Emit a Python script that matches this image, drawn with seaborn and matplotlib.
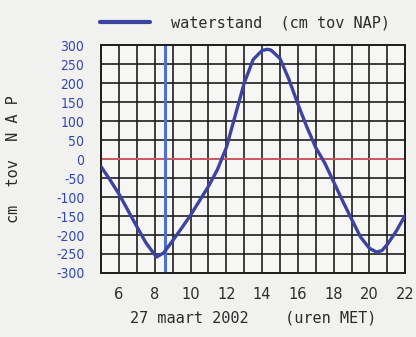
import numpy as np
import pandas as pd
import matplotlib
matplotlib.use('Agg')
import matplotlib.pyplot as plt
import seaborn as sns

# waterstand 27 maart 2002 (uren MET, cm tov NAP)
hours = [5.0, 5.5, 6.0, 6.5, 7.0, 7.5, 8.0, 8.1, 8.5, 9.0, 9.5, 10.0, 10.5, 11.0,
         11.5, 12.0, 12.5, 13.0, 13.5, 14.0, 14.3, 14.5, 15.0, 15.5, 16.0, 16.5,
         17.0, 17.5, 18.0, 18.5, 19.0, 19.5, 20.0, 20.4, 20.7, 21.0, 21.5, 22.0]
level = [-20, -55, -92, -135, -178, -220, -252, -258, -247, -215, -182, -148, -110, -72,
         -28, 30, 115, 200, 262, 286, 289, 287, 265, 210, 145, 85,
         30, -10, -60, -110, -158, -205, -235, -245, -241, -225, -190, -148]
now_hour = 8.55

x_ticks = [6, 8, 10, 12, 14, 16, 18, 20, 22]
y_ticks = list(range(-300, 301, 50))

df = pd.DataFrame({'uur': hours, 'waterstand': level})

sns.set_style('white')
plt.rcParams['font.family'] = ['DejaVu Sans Mono', 'DejaVu Sans']
plt.rcParams['axes.unicode_minus'] = False

bg = '#f1f2ef'
fig = plt.figure(figsize=(4.16, 3.37), dpi=100, facecolor=bg)
ax = fig.add_axes([0.243, 0.190, 0.731, 0.676], facecolor='#f6f6f4')

ax.set_xlim(5, 22)
ax.set_ylim(-300, 300)
ax.set_xticks(x_ticks)
ax.set_xticks(np.arange(5, 23, 1), minor=True)
ax.set_yticks(y_ticks)
ax.grid(True, which='both', color='#1e1e1e', linewidth=1.2)
ax.set_axisbelow(True)

ax.axhline(0, color='#e8606a', linewidth=1.2, zorder=2)
ax.axvline(now_hour, color='#4d6fd6', linewidth=2.2, zorder=2)

sns.lineplot(data=df, x='uur', y='waterstand', ax=ax, color='#3b43a3',
             linewidth=2.4, label='waterstand  (cm tov NAP)', zorder=3)

for s in ax.spines.values():
    s.set_color('#1e1e1e')
    s.set_linewidth(1.4)

ax.tick_params(axis='both', which='both', length=0)
ax.tick_params(axis='x', labelsize=10.5, labelcolor='#2b2b2b', pad=10)
ax.tick_params(axis='y', labelsize=10.5, labelcolor='#3347b0', pad=12)
for t in ax.get_yticklabels():
    t.set_fontfamily('DejaVu Sans')
    t.set_fontstretch('condensed')
    t.set_fontsize(10)
for t in ax.get_xticklabels():
    t.set_fontfamily('DejaVu Sans')

ax.set_xlabel('27 maart 2002    (uren MET)', fontsize=11, color='#2b2b2b', labelpad=6)
ax.set_ylabel('cm  tov  N A P', fontsize=11, color='#2b2b2b')
ax.yaxis.set_label_coords(-0.265, 0.5)

leg = ax.legend(loc='lower left', bbox_to_anchor=(-0.03, 1.03), frameon=False,
                fontsize=11, handlelength=3.3, handletextpad=1.4, borderpad=0.2,
                borderaxespad=0.3)
for t in leg.get_texts():
    t.set_color('#2b2b2b')
for h in leg.get_lines():
    h.set_linewidth(3)

fig.savefig('out.png', dpi=100, facecolor=bg)
